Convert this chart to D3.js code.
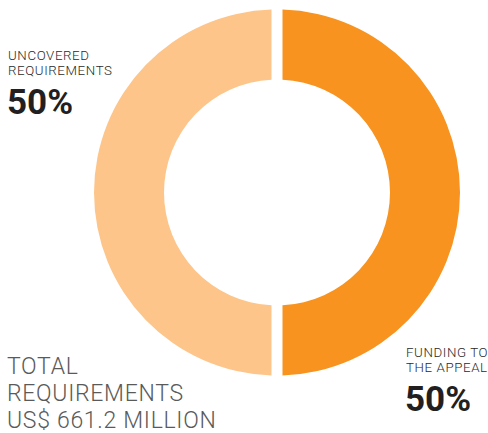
<!DOCTYPE html>
<html><head><meta charset="utf-8">
<script src="https://cdn.jsdelivr.net/npm/d3@7"></script>
<style>body{margin:0;background:#fff}svg{display:block}</style>
</head><body>
<script>
const categories = ["FUNDING TO THE APPEAL", "UNCOVERED REQUIREMENTS"];
const values = [50, 50];
const colors = ["#F7931E", "#FDC58A"];
const totalLines = ["TOTAL", "REQUIREMENTS", "US$ 661.2 MILLION"];

const W = 488, H = 433, cx = 277, cy = 192.5, R = 183, r = 113, gap = 11;
const svg = d3.select("body").append("svg").attr("width", W).attr("height", H);

const pie = d3.pie().sort(null).value(d => d)(values);
const arc = d3.arc().innerRadius(r).outerRadius(R).padRadius(R).padAngle(gap / R);
svg.append("g").attr("transform", `translate(${cx},${cy})`)
  .selectAll("path").data(pie).join("path")
  .attr("d", arc).attr("fill", (d, i) => colors[i]);

const font = "Roboto, 'DejaVu Sans', sans-serif";
function label(x, y, lines, pct) {
  const g = svg.append("g");
  lines.forEach((t, i) => g.append("text").attr("x", x).attr("y", y + i * 14.5)
    .attr("font-family", font).attr("font-size", 13.3).attr("font-weight", 300)
    .attr("letter-spacing", 0.6).attr("fill", "#2a2a2a").text(t));
  g.append("text").attr("x", x - 1).attr("y", y + 14.5 + 39)
    .attr("font-family", font).attr("font-size", 35).attr("font-weight", 700)
    .attr("fill", "#231F20").text(pct);
}
label(8, 60, ["UNCOVERED", "REQUIREMENTS"], values[1] + "%");
label(406, 357, ["FUNDING TO", "THE APPEAL"], values[0] + "%");

totalLines.forEach((t, i) => svg.append("text").attr("x", 7).attr("y", 374 + i * 27)
  .attr("font-family", font).attr("font-size", 23).attr("font-weight", 300)
  .attr("letter-spacing", 0.7).attr("fill", "#5a5a5a").text(t));
</script>
</body></html>
